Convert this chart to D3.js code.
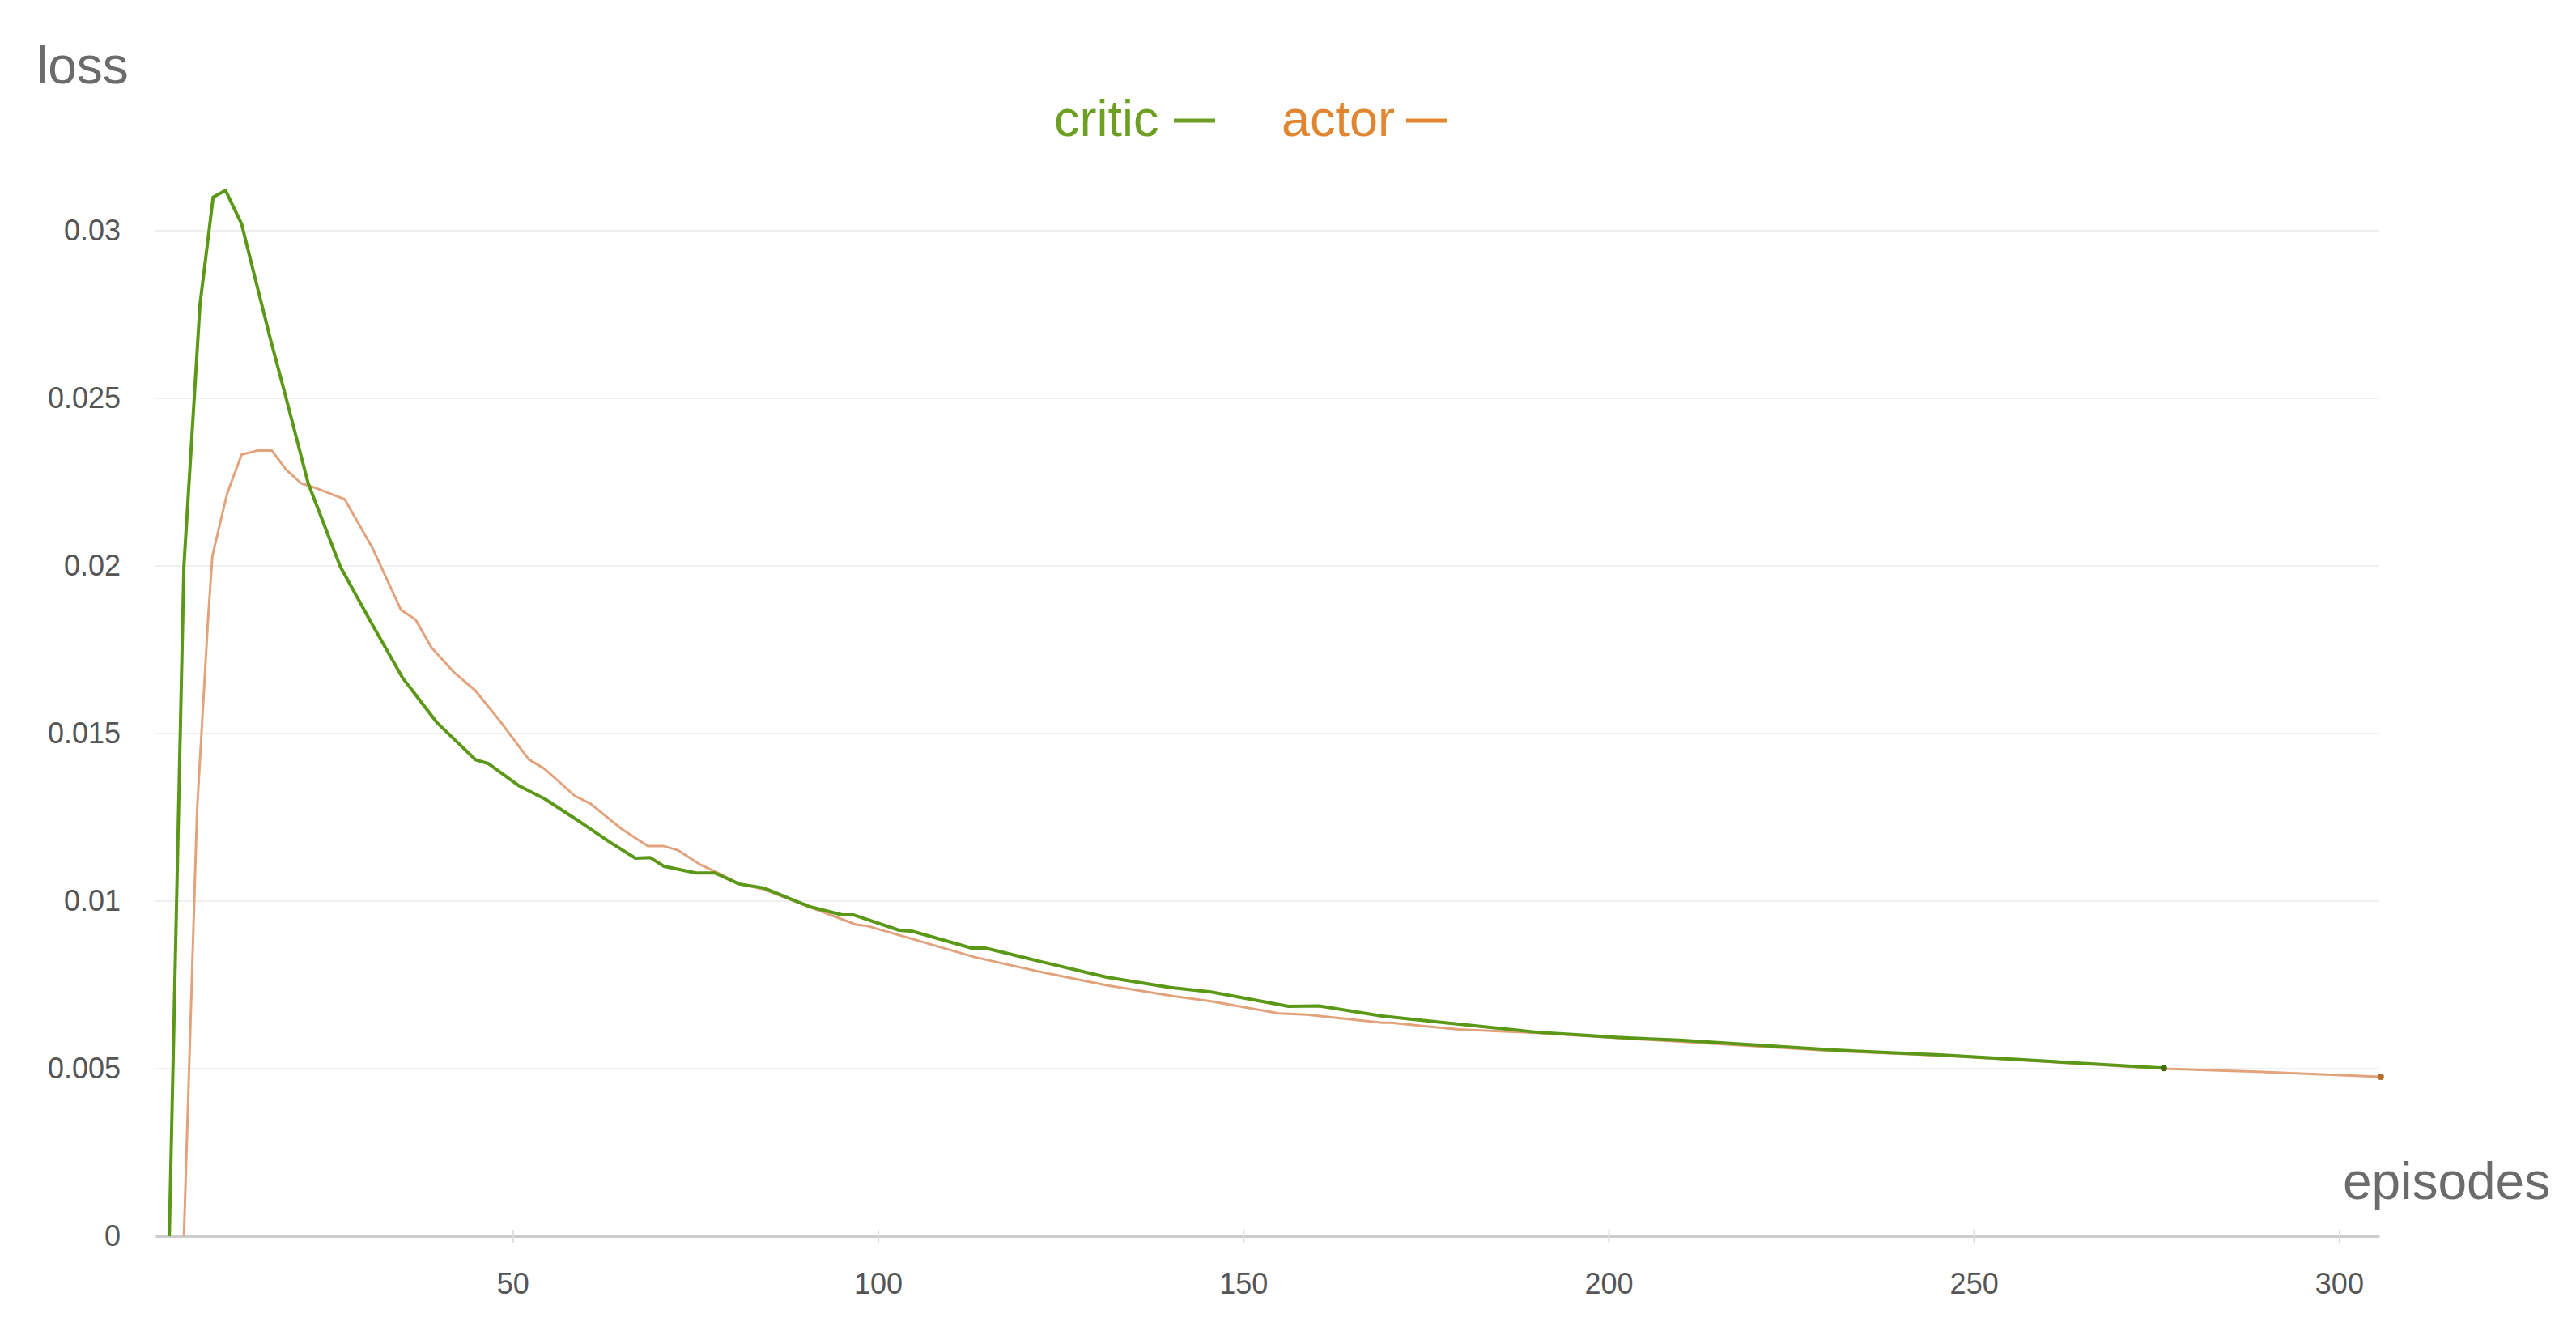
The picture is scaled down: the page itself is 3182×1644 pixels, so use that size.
<!DOCTYPE html>
<html>
<head>
<meta charset="utf-8">
<script src="https://cdn.jsdelivr.net/npm/d3@7/dist/d3.min.js"></script>
<style>
  html, body { margin: 0; padding: 0; background: #ffffff; }
  svg { display: block; }
</style>
</head>
<body>
<svg id="chart" width="3182" height="1644"></svg>
<script>
// ---- data ----
const seriesNames = ["critic", "actor"];
const criticEpisodes = [3, 5, 7.2, 9, 10.7, 12.9, 14.5, 16.8, 19, 22, 26.4, 30.5, 34.9, 39.7, 44.9, 46.7, 50.8, 54.4, 58.9, 63.3, 66.8, 68.8, 70.7, 75.1, 77.7, 81, 84.4, 90.7, 95.1, 96.6, 102.9, 104.7, 112.8, 114.7, 122, 131.3, 140, 145.6, 156.2, 160.4, 169, 179.5, 190.1, 196, 201.5, 209.7, 230.6, 245.4, 265, 276];
const criticLoss = [0, 0.0200, 0.0278, 0.0310, 0.0312, 0.0302, 0.0288, 0.0268, 0.0250, 0.02247, 0.01998, 0.01836, 0.01667, 0.01531, 0.01422, 0.0141, 0.01345, 0.01305, 0.01241, 0.01176, 0.01128, 0.0113, 0.01104, 0.01084, 0.01084, 0.01051, 0.01039, 0.00983, 0.00959, 0.00959, 0.00913, 0.0091, 0.0086, 0.0086, 0.00821, 0.00773, 0.00742, 0.00729, 0.00686, 0.00687, 0.00657, 0.00633, 0.00609, 0.00601, 0.00593, 0.00585, 0.00556, 0.00541, 0.00516, 0.00502];
const actorEpisodes = [5, 6.8, 8.3, 8.9, 10.9, 12.9, 15, 17, 19, 21, 22.7, 27, 30.8, 34.7, 36.7, 38.9, 41.9, 44.9, 48.2, 52.2, 54.4, 58.5, 60.7, 64.8, 68.5, 70.7, 72.6, 75.5, 78.5, 81, 84.4, 91.4, 97, 98.5, 103.6, 113.2, 122, 131.3, 140.5, 145.6, 154.9, 158.7, 169, 170.2, 179.5, 190.1, 201.5, 209.7, 230.6, 245.4, 265, 276, 290, 305.7];
const actorLoss = [0, 0.0127, 0.0184, 0.0203, 0.02215, 0.02332, 0.02344, 0.02345, 0.02287, 0.02247, 0.02235, 0.02199, 0.02054, 0.01869, 0.0184, 0.01756, 0.01684, 0.01628, 0.01539, 0.01423, 0.01394, 0.01314, 0.0129, 0.01217, 0.01164, 0.01164, 0.01152, 0.01111, 0.0108, 0.01051, 0.01035, 0.00976, 0.0093, 0.00926, 0.00894, 0.00833, 0.0079, 0.00749, 0.00716, 0.00701, 0.00665, 0.00661, 0.00637, 0.00637, 0.00617, 0.00607, 0.00591, 0.00581, 0.00553, 0.00539, 0.00514, 0.005, 0.0049, 0.00476];
const xTicks = [50, 100, 150, 200, 250, 300];
const yTicks = [0, 0.005, 0.01, 0.015, 0.02, 0.025, 0.03];
const yTickLabels = ["0", "0.005", "0.01", "0.015", "0.02", "0.025", "0.03"];
const xTitle = "episodes";
const yTitle = "loss";

// ---- layout ----
const svg = d3.select("#chart");
const x = d3.scaleLinear().domain([1.1, 305.5]).range([192, 2939]);
const y = d3.scaleLinear().domain([0, 0.03]).range([1527, 285]);
const FONT = "'Liberation Sans', Arial, Helvetica, sans-serif";
const colors = { critic: "#5b9817", actor: "#e2a27c" };
const legendColors = { critic: "#6c9f22", actor: "#e08630" };

// gridlines
svg.append("g").selectAll("line").data(yTicks.filter(d => d > 0)).join("line")
  .attr("x1", x.range()[0]).attr("x2", x.range()[1])
  .attr("y1", d => y(d)).attr("y2", d => y(d))
  .attr("stroke", "#efefef").attr("stroke-width", 2);

// y axis (labels only)
const yAxis = svg.append("g").attr("transform", `translate(${x.range()[0]},0)`)
  .call(d3.axisLeft(y).tickValues(yTicks).tickSize(0).tickPadding(43)
    .tickFormat((d, i) => yTickLabels[i]));
yAxis.select(".domain").remove();
yAxis.selectAll("text").attr("font-family", FONT).attr("font-size", 36).attr("fill", "#555");

// x axis
const xAxis = svg.append("g").attr("transform", `translate(0,${y(0)})`)
  .call(d3.axisBottom(x).tickValues(xTicks).tickSize(8).tickPadding(37).tickSizeOuter(0));
xAxis.select(".domain").attr("stroke", "#cccccc").attr("stroke-width", 3);
xAxis.selectAll(".tick line").attr("y1", -8).attr("y2", 8).attr("stroke", "#dddddd").attr("stroke-width", 2);
xAxis.selectAll("text").attr("font-family", FONT).attr("font-size", 36).attr("fill", "#555");

// lines
const line = d3.line().x(d => x(d[0])).y(d => y(d[1]));
const actorData = actorEpisodes.map((e, i) => [e, actorLoss[i]]);
const criticData = criticEpisodes.map((e, i) => [e, criticLoss[i]]);

svg.append("path").datum(actorData).attr("d", line)
  .attr("fill", "none").attr("stroke", colors.actor).attr("stroke-width", 3)
  .attr("stroke-linejoin", "round");
svg.append("path").datum(criticData).attr("d", line)
  .attr("fill", "none").attr("stroke", colors.critic).attr("stroke-width", 4)
  .attr("stroke-linejoin", "round");

// end dots
const lastA = actorData[actorData.length - 1];
const lastC = criticData[criticData.length - 1];
svg.append("circle").attr("cx", x(lastA[0])).attr("cy", y(lastA[1])).attr("r", 4).attr("fill", "#b86a28");
svg.append("circle").attr("cx", x(lastC[0])).attr("cy", y(lastC[1])).attr("r", 4).attr("fill", "#3f6e08");

// axis titles
svg.append("text").attr("x", 45).attr("y", 103).text(yTitle)
  .attr("font-family", FONT).attr("font-size", 64).attr("fill", "#6b6b6b");
svg.append("text").attr("x", 2894).attr("y", 1481).text(xTitle)
  .attr("font-family", FONT).attr("font-size", 64).attr("fill", "#6b6b6b");

// legend
const legendX = { critic: 1302, actor: 1583 };
const legendDash = { critic: [1450, 1501], actor: [1737, 1788] };
seriesNames.forEach(name => {
  svg.append("text").attr("x", legendX[name]).attr("y", 168)
    .attr("font-family", FONT).attr("font-size", 63).attr("fill", legendColors[name])
    .text(name);
  svg.append("line").attr("x1", legendDash[name][0]).attr("x2", legendDash[name][1])
    .attr("y1", 149).attr("y2", 149)
    .attr("stroke", legendColors[name]).attr("stroke-width", 5);
});
</script>
</body>
</html>
